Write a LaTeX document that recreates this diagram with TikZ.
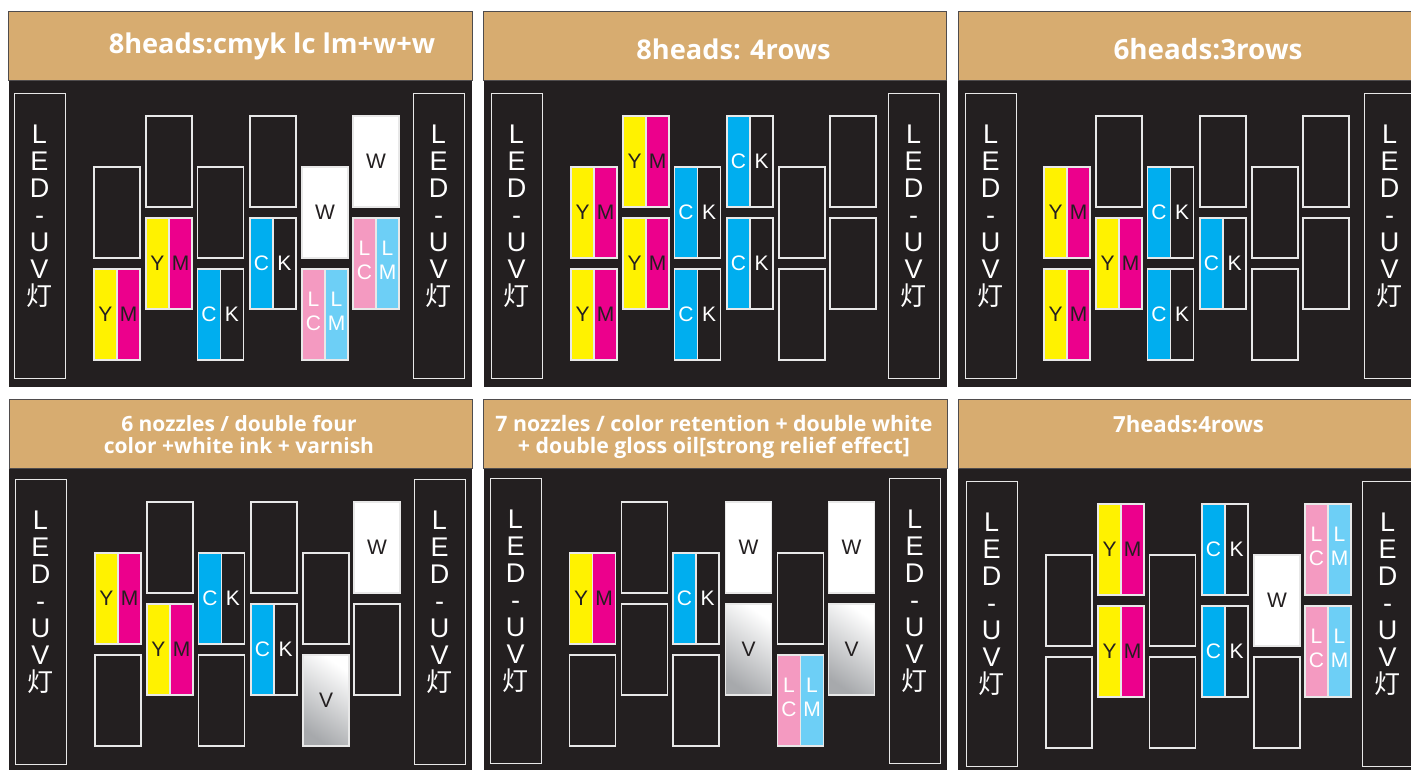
\documentclass[tikz,border=0pt]{standalone}
\usepackage{fontspec}
\setmainfont{Liberation Sans}
\newfontfamily\titlefont{Open Sans}
\newfontfamily\cjk{Noto Sans CJK SC}
\definecolor{darkbg}{HTML}{231F20}
\definecolor{tan}{HTML}{D7AC70}
\definecolor{edge}{HTML}{E8E8E8}
\definecolor{hy}{HTML}{FFF200}
\definecolor{hm}{HTML}{EC008C}
\definecolor{hc}{HTML}{00AEEF}
\definecolor{hp}{HTML}{F49AC1}
\definecolor{hb}{HTML}{6DCFF6}
\definecolor{vgray}{HTML}{A7A9AC}
\tikzset{
  x=1pt,y=-1pt,
  headbase/.style={rectangle,draw=edge,line width=1.1pt,inner sep=0pt,outer sep=0pt,anchor=north west,minimum height=91pt},
  half/.style={headbase,minimum width=23pt,font=\fontsize{21}{24}\selectfont,align=center},
  whole/.style={headbase,minimum width=46pt,font=\fontsize{21}{24}\selectfont,text=darkbg},
  pairtext/.style={text=white,inner sep=0pt,align=center,font=\fontsize{21}{24}\selectfont},
  ledbox/.style={rectangle,draw=edge,line width=1.1pt,inner sep=0pt,anchor=north west,minimum width=51pt,minimum height=285pt},
  ledtext/.style={text=white,align=center,inner sep=0pt,font=\fontsize{27}{27}\selectfont,anchor=north},
  titletext/.style={text=white,inner sep=0pt,align=center,font=\titlefont\bfseries\fontsize{#1}{22}\selectfont},
}
\def\cxa{94}\def\cxb{146}\def\cxc{197.5}\def\cxd{250}\def\cxe{302}\def\cxf{353}
\newcommand\hdpos[2]{\edef\hx{\ifcase#1\or\cxa\or\cxb\or\cxc\or\cxd\or\cxe\or\cxf\fi}%
  \edef\hy{\ifodd#1 \ifnum#2=1 167\else 269\fi\else\ifnum#2=1 116\else 218\fi\fi}}
% head kinds: name, column, row
\newcommand\hdE[3]{\hdpos{#2}{#3}\node[whole] (#1) at (\hx,\hy) {};}
\newcommand\hdW[3]{\hdpos{#2}{#3}\node[whole,fill=white] (#1) at (\hx,\hy) {W};}
\newcommand\hdV[3]{\hdpos{#2}{#3}\node[whole,top color=white,middle color=white,bottom color=vgray,shading angle=-35] (#1) at (\hx,\hy) {V};}
\newcommand\hdYM[3]{\hdpos{#2}{#3}%
  \node[half,fill=hy,text=darkbg] (#1a) at (\hx,\hy) {Y};
  \node[half,fill=hm,text=darkbg] (#1b) at ([xshift=23pt]#1a.north west) {M};}
\newcommand\hdCK[3]{\hdpos{#2}{#3}%
  \node[half,fill=hc,text=white] (#1a) at (\hx,\hy) {C};
  \node[half,text=white] (#1b) at ([xshift=23pt]#1a.north west) {K};}
\newcommand\hdLL[3]{\hdpos{#2}{#3}%
  \node[half,fill=hp] (#1a) at (\hx,\hy) {};
  \node[half,fill=hb] (#1b) at ([xshift=23pt]#1a.north west) {};
  \node[pairtext] (#1c) at ([yshift=3.5pt]#1a.center) {L\\C};
  \node[pairtext] (#1d) at ([yshift=3.5pt]#1b.center) {L\\M};}
% name, left, right, top, bottom, led left, led right, led top
\newcommand\panel[8]{%
  \fill[darkbg] (#2,#4) rectangle (#3,#5);
  \draw[fill=tan,draw=darkbg!80,line width=.7pt] (#2,#4) rectangle (#3,#4+69);
  \node[ledbox] (#1ledl) at (#6,#8) {};
  \node[ledbox] (#1ledr) at (#7,#8) {};
  \node[ledtext] (#1tl) at (#6+25.5,#8+31.5) {L\\E\\D\\-\\U\\V\\{\cjk\fontsize{26}{27}\selectfont 灯}};
  \node[ledtext] (#1tr) at (#7+25.5,#8+31.5) {L\\E\\D\\-\\U\\V\\{\cjk\fontsize{26}{27}\selectfont 灯}};
}
\begin{document}
\begin{tikzpicture}
\useasboundingbox (0,0) rectangle (1411,770);
\clip (0,0) rectangle (1411,770);
\fill[white] (0,0) rectangle (1411,770);
% ---- panels
\panel{pa}{8.5}{472}{11}{387}{14}{413}{93}
\panel{pb}{483.5}{946.5}{11}{387}{491}{888}{93}
\panel{pc}{958}{1411}{11}{387}{965}{1364}{93}
\panel{pd}{9}{472}{399}{770}{15}{414}{479}
\panel{pe}{483.5}{947}{399}{770}{490}{889}{478}
\panel{pf}{958}{1411}{399}{770}{966}{1362}{481}
% ---- titles
\node[titletext=27.2] (ta) at (272,46.5) {8heads:cmyk lc lm+w+w};
\node[titletext=27.2] (tb) at (733.5,49) {8heads: 4rows};
\node[titletext=27.8] (tc) at (1208,49) {6heads:3rows};
\node[titletext=21] (td) at (239,435) {6 nozzles / double four\\color +white ink + varnish};
\node[titletext=21.3] (te) at (714,437) {7 nozzles / color retention + double white\\+ double gloss oil[strong relief effect]};
\node[titletext=22.2] (tf) at (1188.5,424) {7heads:4rows};
% ---- heads
\begin{scope}
\hdE{aa}{1}{1}\hdYM{ab}{1}{2}\hdE{ac}{2}{1}\hdYM{ad}{2}{2}\hdE{ae}{3}{1}\hdCK{af}{3}{2}
\hdE{ag}{4}{1}\hdCK{ah}{4}{2}\hdW{ai}{5}{1}\hdLL{aj}{5}{2}\hdW{ak}{6}{1}\hdLL{al}{6}{2}
\end{scope}
\begin{scope}[shift={(477,0)}]
\hdYM{ba}{1}{1}\hdYM{bb}{1}{2}\hdYM{bc}{2}{1}\hdYM{bd}{2}{2}\hdCK{be}{3}{1}\hdCK{bf}{3}{2}
\hdCK{bg}{4}{1}\hdCK{bh}{4}{2}\hdE{bi}{5}{1}\hdE{bj}{5}{2}\hdE{bk}{6}{1}\hdE{bl}{6}{2}
\end{scope}
\begin{scope}[shift={(950,0)}]
\hdYM{ca}{1}{1}\hdYM{cb}{1}{2}\hdE{cc}{2}{1}\hdYM{cd}{2}{2}\hdCK{ce}{3}{1}\hdCK{cf}{3}{2}
\hdE{cg}{4}{1}\hdCK{ch}{4}{2}\hdE{ci}{5}{1}\hdE{cj}{5}{2}\hdE{ck}{6}{1}\hdE{cl}{6}{2}
\end{scope}
\begin{scope}[shift={(1,386)}]
\hdYM{da}{1}{1}\hdE{db}{1}{2}\hdE{dc}{2}{1}\hdYM{dd}{2}{2}\hdCK{de}{3}{1}\hdE{df}{3}{2}
\hdE{dg}{4}{1}\hdCK{dh}{4}{2}\hdE{di}{5}{1}\hdV{dj}{5}{2}\hdW{dk}{6}{1}\hdE{dl}{6}{2}
\end{scope}
\begin{scope}[shift={(475.5,386)}]
\hdYM{ea}{1}{1}\hdE{eb}{1}{2}\hdE{ec}{2}{1}\hdE{ed}{2}{2}\hdCK{ee}{3}{1}\hdE{ef}{3}{2}
\hdW{eg}{4}{1}\hdV{eh}{4}{2}\hdE{ei}{5}{1}\hdLL{ej}{5}{2}\hdW{ek}{6}{1}\hdV{el}{6}{2}
\end{scope}
\begin{scope}[shift={(952,388)}]
\hdE{fa}{1}{1}\hdE{fb}{1}{2}\hdYM{fc}{2}{1}\hdYM{fd}{2}{2}\hdE{fe}{3}{1}\hdE{ff}{3}{2}
\hdCK{fg}{4}{1}\hdCK{fh}{4}{2}\hdW{fi}{5}{1}\hdE{fj}{5}{2}\hdLL{fk}{6}{1}\hdLL{fl}{6}{2}
\end{scope}
\end{tikzpicture}
\end{document}
